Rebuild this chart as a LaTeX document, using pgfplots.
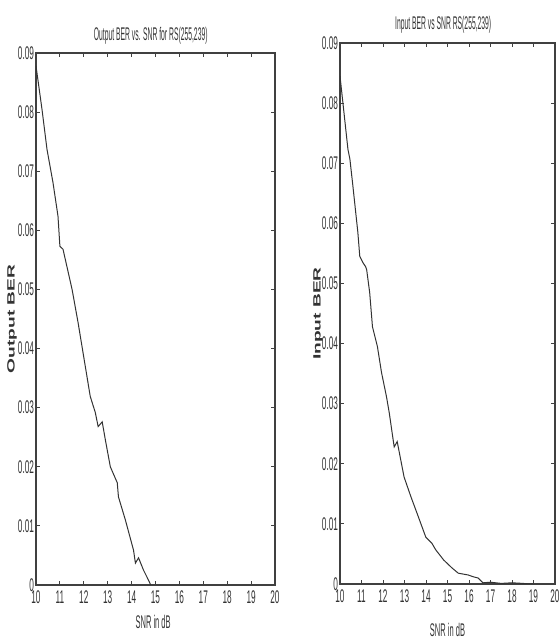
\documentclass[border=0pt]{standalone}
\usepackage{pgfplots}
\pgfplotsset{compat=1.18}
\usepackage{fontspec}
\setmainfont{Liberation Sans}
\newcommand{\sq}[1]{\scalebox{0.45}[1]{#1}}
\begin{document}
\begin{tikzpicture}
\path[use as bounding box] (0,0) rectangle (336pt,383.4pt);
\pgfplotsset{
 mystyle/.style={
  scale only axis,
  /pgf/number format/assume math mode=true,
  axis line style={black!75, line width=0.9pt},
  tick align=inside, tick style={black!75, line width=0.5pt}, major tick length=2.4pt,
  xmin=10, xmax=20, ymin=0, ymax=0.09,
  xtick={10,11,12,13,14,15,16,17,18,19,20},
  ytick={0,0.01,0.02,0.03,0.04,0.05,0.06,0.07,0.08,0.09},
  scaled y ticks=false,
  xticklabel={\sq{\pgfmathprintnumber{\tick}}},
  yticklabel={\sq{\pgfmathprintnumber[fixed,precision=2]{\tick}}},
  ticklabel style={font=\fontsize{11}{11}\selectfont, text=black!80},
  yticklabel style={inner sep=1pt},
  title style={font=\fontsize{11}{11}\selectfont, text=black!80, anchor=center, yshift=-7.5pt},
  xlabel style={font=\fontsize{11}{11}\selectfont, text=black!80, anchor=center},
  ylabel style={font=\fontsize{11.5}{11.5}\selectfont\bfseries, text=black!80, anchor=center},
 }
}
\begin{axis}[mystyle,
  anchor=south west, at={(21.6pt,32.4pt)},
  width=143.4pt, height=319.2pt,
  title={\scalebox{0.37}[1]{Output BER vs. SNR for RS(255,239)}},
  title style={at={(axis description cs:0.48,1.0376)}},
  xlabel={\scalebox{0.41}[1]{SNR in dB}},
  xlabel style={at={(axis description cs:0.49,-0.0695)}},
  ylabel={\scalebox{1}[0.55]{Output BER}},
  ylabel style={at={(axis description cs:-0.100,0.50)}},
]
\addplot[black!80, line width=0.6pt] coordinates {
(10.00,0.0878) (10.25,0.0805) (10.46,0.0737) (10.71,0.0681) (10.92,0.0624)
(11.00,0.0573) (11.13,0.0568) (11.51,0.0500) (11.76,0.0444) (12.27,0.0319)
(12.48,0.0292) (12.60,0.0268) (12.77,0.0276) (12.90,0.0246) (13.11,0.0200)
(13.40,0.0173) (13.45,0.0149) (13.74,0.0110) (14.08,0.0059) (14.16,0.0037)
(14.29,0.0046) (14.50,0.0025) (14.71,0.0008) (14.80,0.0000)
};
\end{axis}
\begin{axis}[mystyle,
  anchor=south west, at={(204pt,33pt)},
  width=129pt, height=324.6pt,
  title={\scalebox{0.37}[1]{Input BER vs SNR RS(255,239)}},
  title style={at={(axis description cs:0.48,1.0388)}},
  xlabel={\scalebox{0.41}[1]{SNR in dB}},
  xlabel style={at={(axis description cs:0.50,-0.085)}},
  ylabel={\scalebox{1}[0.55]{Input BER}},
  ylabel style={at={(axis description cs:-0.102,0.50)}},
]
\addplot[black!80, line width=0.6pt] coordinates {
(10.00,0.0845) (10.37,0.0723) (10.46,0.0707) (10.60,0.0662) (10.83,0.0585)
(10.92,0.0545) (11.06,0.0535) (11.19,0.0528) (11.24,0.0523) (11.38,0.0485)
(11.51,0.0428) (11.74,0.0395) (11.93,0.0352) (12.16,0.0312) (12.29,0.0285)
(12.52,0.0228) (12.66,0.0237) (12.98,0.0178) (13.30,0.0145) (13.58,0.0118)
(13.99,0.0078) (14.27,0.0068) (14.45,0.0057) (14.82,0.0040) (15.20,0.0027)
(15.50,0.0018) (15.96,0.0015) (16.20,0.0012) (16.42,0.0010) (16.65,0.0002)
(17.00,0.0003) (17.50,0.0001) (18.00,0.0002) (18.50,0.0001) (18.85,0.0000)
(19.00,0.0000)
};
\end{axis}
\end{tikzpicture}
\end{document}
